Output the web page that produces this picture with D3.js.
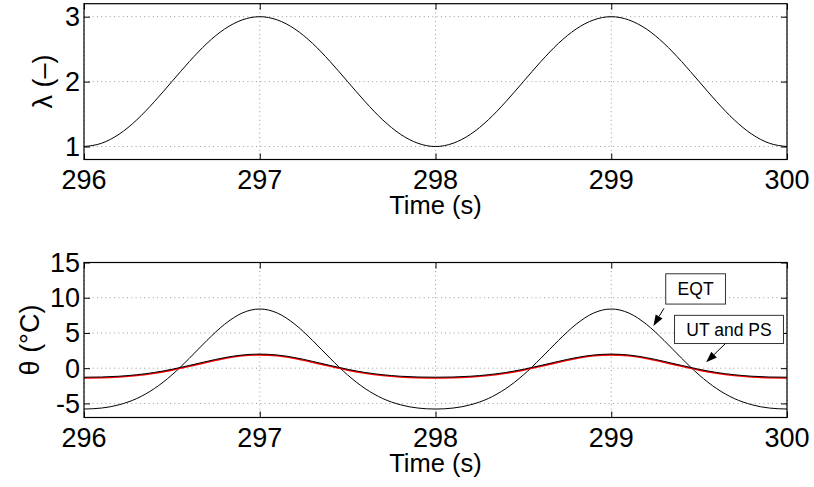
<!DOCTYPE html>
<html>
<head>
<meta charset="utf-8">
<script src="https://cdn.jsdelivr.net/npm/d3@7"></script>
<style>
  body { margin: 0; background: #fff; }
  svg { display: block; font-family: 'Liberation Sans', Arial, sans-serif; }
</style>
</head>
<body>
<div id="chart"></div>
<script>
// sample times (s)
const time = [296.0, 296.1, 296.2, 296.3, 296.4, 296.5, 296.6, 296.7, 296.8, 296.9,
  297.0, 297.1, 297.2, 297.3, 297.4, 297.5, 297.6, 297.7, 297.8, 297.9,
  298.0, 298.1, 298.2, 298.3, 298.4, 298.5, 298.6, 298.7, 298.8, 298.9,
  299.0, 299.1, 299.2, 299.3, 299.4, 299.5, 299.6, 299.7, 299.8, 299.9, 300.0];

// lambda (-)
const lambda = [1.00, 1.05, 1.19, 1.41, 1.69, 2.00, 2.31, 2.59, 2.81, 2.95,
  3.00, 2.95, 2.81, 2.59, 2.31, 2.00, 1.69, 1.41, 1.19, 1.05,
  1.00, 1.05, 1.19, 1.41, 1.69, 2.00, 2.31, 2.59, 2.81, 2.95,
  3.00, 2.95, 2.81, 2.59, 2.31, 2.00, 1.69, 1.41, 1.19, 1.05, 1.00];

// theta (degC)
const eqt = [-5.80, -5.66, -5.19, -4.31, -2.90, -0.96, 1.42, 3.95, 6.23, 7.83,
  8.40, 7.83, 6.23, 3.95, 1.42, -0.96, -2.90, -4.31, -5.19, -5.66,
  -5.80, -5.66, -5.19, -4.31, -2.90, -0.96, 1.42, 3.95, 6.23, 7.83,
  8.40, 7.83, 6.23, 3.95, 1.42, -0.96, -2.90, -4.31, -5.19, -5.66, -5.80];
const ut = [-1.28, -1.25, -1.14, -0.93, -0.61, -0.16, 0.39, 0.97, 1.50, 1.87,
  2.00, 1.87, 1.50, 0.97, 0.39, -0.16, -0.61, -0.93, -1.14, -1.25,
  -1.28, -1.25, -1.14, -0.93, -0.61, -0.16, 0.39, 0.97, 1.50, 1.87,
  2.00, 1.87, 1.50, 0.97, 0.39, -0.16, -0.61, -0.93, -1.14, -1.25, -1.28];
const ps = [-1.31, -1.28, -1.17, -0.96, -0.64, -0.19, 0.36, 0.94, 1.47, 1.84,
  1.97, 1.84, 1.47, 0.94, 0.36, -0.19, -0.64, -0.96, -1.17, -1.28,
  -1.31, -1.28, -1.17, -0.96, -0.64, -0.19, 0.36, 0.94, 1.47, 1.84,
  1.97, 1.84, 1.47, 0.94, 0.36, -0.19, -0.64, -0.96, -1.17, -1.28, -1.31];

const xTicks = [296, 297, 298, 299, 300];
const lambdaTicks = [1, 2, 3];
const thetaTicks = [-5, 0, 5, 10, 15];

// annotations in data units: box [t0, t1, th0, th1], arrow [tailT, tailTh, headT, headTh]
const notes = [
  { label: 'EQT', box: [299.31, 299.65, 9.1, 13.4], arrow: [299.30, 8.5, 299.24, 6.0] },
  { label: 'UT and PS', box: [299.36, 299.98, 3.5, 7.5], arrow: [299.65, 3.5, 299.54, 0.85] }
];

const W = 814, H = 487;
const left = 84, right = 787;

const svg = d3.select('#chart').append('svg')
  .attr('width', W).attr('height', H);

svg.append('rect').attr('width', W).attr('height', H).attr('fill', '#fff');

const x = d3.scaleLinear().domain([296, 300]).range([left, right]);

function panel(top, bottom, domain, ticks, yLabel, series, labelX) {
  const y = d3.scaleLinear().domain(domain).range([bottom, top]);
  const g = svg.append('g');

  // dotted grid
  g.selectAll('.gx').data(xTicks).enter().append('line')
    .attr('x1', d => x(d)).attr('x2', d => x(d))
    .attr('y1', top).attr('y2', bottom)
    .attr('stroke', '#999').attr('stroke-width', 1)
    .attr('stroke-dasharray', '1,3.3');
  g.selectAll('.gy').data(ticks).enter().append('line')
    .attr('x1', left).attr('x2', right)
    .attr('y1', d => y(d)).attr('y2', d => y(d))
    .attr('stroke', '#999').attr('stroke-width', 1)
    .attr('stroke-dasharray', '1,3.3');

  // curves
  series.forEach(s => {
    const line = d3.line()
      .x((d, i) => x(time[i]))
      .y(d => y(d) + (s.shift || 0))
      .curve(d3.curveMonotoneX);
    g.append('path')
      .attr('d', line(s.values))
      .attr('fill', 'none')
      .attr('stroke', s.color)
      .attr('stroke-width', s.width);
  });

  // inner ticks on all four sides
  const tickLen = 6;
  g.append('g').attr('transform', `translate(0,${bottom})`)
    .call(d3.axisBottom(x).tickValues(xTicks).tickSize(-tickLen).tickFormat(''));
  g.append('g').attr('transform', `translate(0,${top})`)
    .call(d3.axisTop(x).tickValues(xTicks).tickSize(-tickLen).tickFormat(''));
  g.append('g').attr('transform', `translate(${left},0)`)
    .call(d3.axisLeft(y).tickValues(ticks).tickSize(-tickLen).tickFormat(''));
  g.append('g').attr('transform', `translate(${right},0)`)
    .call(d3.axisRight(y).tickValues(ticks).tickSize(-tickLen).tickFormat(''));
  g.selectAll('.domain').remove();
  g.selectAll('.tick line').attr('stroke', '#000').attr('stroke-width', 1);

  // box
  g.append('rect')
    .attr('x', left).attr('y', top)
    .attr('width', right - left).attr('height', bottom - top)
    .attr('fill', 'none').attr('stroke', '#000').attr('stroke-width', 1.2);

  // tick labels
  g.selectAll('.xl').data(xTicks).enter().append('text')
    .attr('x', d => x(d)).attr('y', bottom + 29.5)
    .attr('text-anchor', 'middle').attr('font-size', 27)
    .text(d => d);
  g.selectAll('.yl').data(ticks).enter().append('text')
    .attr('x', left - 4).attr('y', d => y(d))
    .attr('dy', '0.35em')
    .attr('text-anchor', 'end').attr('font-size', 27)
    .text(d => d < 0 ? '-' + Math.abs(d) : d);

  // axis titles
  g.append('text')
    .attr('x', (left + right) / 2).attr('y', bottom + 54.5)
    .attr('text-anchor', 'middle').attr('font-size', 25.5)
    .text('Time (s)');
  g.append('text')
    .attr('transform', `translate(${labelX},${(top + bottom) / 2}) rotate(-90)`)
    .attr('dy', '0.35em')
    .attr('text-anchor', 'middle').attr('font-size', 27)
    .text(yLabel);

  return y;
}

panel(3.7, 159.5, [0.8, 3.2], lambdaTicks, 'λ (–)',
  [{ values: lambda, color: '#000', width: 1 }], 43);

const yT = panel(262.5, 417.5, [-7, 15], thetaTicks, 'θ (°C)', [
  { values: eqt, color: '#000', width: 1 },
  { values: ps, color: '#ff0000', width: 1.6, shift: 0.6 },
  { values: ut, color: '#000', width: 1 }
], 30);

// annotations
notes.forEach(n => {
  const [t0, t1, a0, a1] = n.box;
  svg.append('rect')
    .attr('x', x(t0)).attr('y', yT(a1))
    .attr('width', x(t1) - x(t0)).attr('height', yT(a0) - yT(a1))
    .attr('fill', '#fff').attr('stroke', '#333').attr('stroke-width', 1);
  svg.append('text')
    .attr('x', (x(t0) + x(t1)) / 2).attr('y', (yT(a0) + yT(a1)) / 2)
    .attr('dy', '0.36em')
    .attr('text-anchor', 'middle').attr('font-size', 17.5)
    .text(n.label);

  const [tt, ta, ht, ha] = n.arrow;
  const x1 = x(tt), y1 = yT(ta), x2 = x(ht), y2 = yT(ha);
  const ang = Math.atan2(y2 - y1, x2 - x1);
  const len = 11, half = 4;
  const bx = x2 - len * Math.cos(ang), by = y2 - len * Math.sin(ang);
  svg.append('line')
    .attr('x1', x1).attr('y1', y1).attr('x2', bx).attr('y2', by)
    .attr('stroke', '#000').attr('stroke-width', 1);
  svg.append('path')
    .attr('d', `M${x2},${y2}L${bx - half * Math.sin(ang)},${by + half * Math.cos(ang)}` +
      `L${bx + half * Math.sin(ang)},${by - half * Math.cos(ang)}Z`)
    .attr('fill', '#000');
});
</script>
</body>
</html>
